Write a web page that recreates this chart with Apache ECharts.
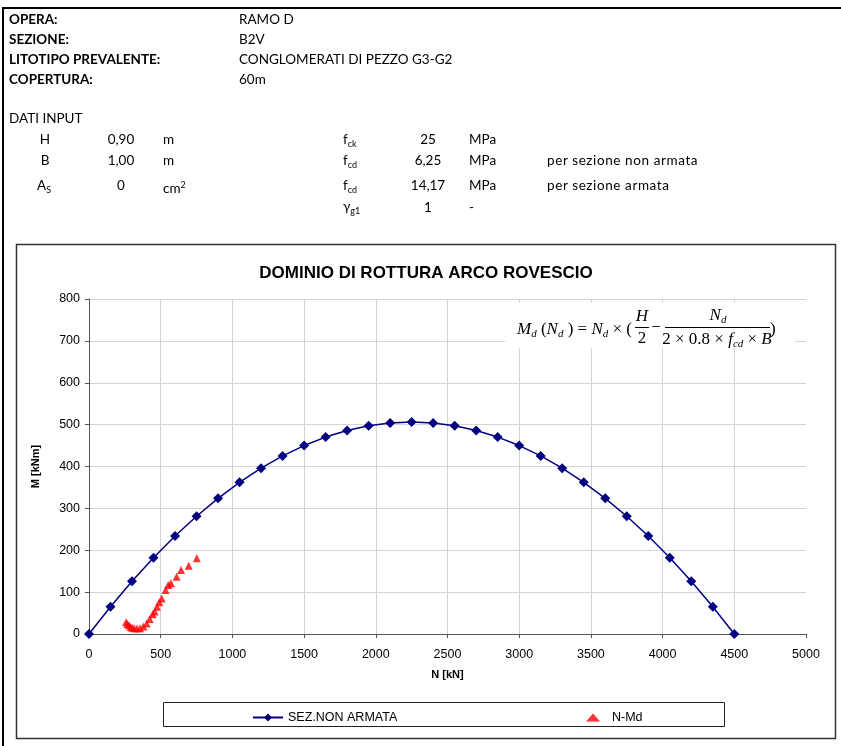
<!DOCTYPE html>
<html>
<head>
<meta charset="utf-8">
<script src="https://cdn.jsdelivr.net/npm/echarts@6/dist/echarts.min.js"></script>
<style>
html,body{margin:0;padding:0;background:#fff;}
#wrap{position:relative;width:841px;height:746px;overflow:hidden;background:#fff;}
#chart{position:absolute;left:0;top:0;width:841px;height:746px;}
.t{position:absolute;font-family:Lato,"Noto Sans",sans-serif;font-size:13.5px;line-height:16px;height:16px;color:#000;white-space:nowrap;}
.b{font-weight:bold;}
.c{transform:translateX(-50%);}
.w{letter-spacing:0.6px;}
.sub{font-size:9px;vertical-align:-3px;}
.sup{font-size:9px;vertical-align:5px;}
.line{position:absolute;background:#000;}
</style>
</head>
<body>
<div id="wrap">
<div id="chart"></div>
<div class="line" style="left:2px;top:7px;width:839px;height:2px;"></div>
<div class="line" style="left:2px;top:7px;width:2px;height:739px;"></div>

<div class="t b" style="left:9px;top:11px;">OPERA:</div>
<div class="t b" style="left:9px;top:31px;">SEZIONE:</div>
<div class="t b" style="left:9px;top:51px;">LITOTIPO PREVALENTE:</div>
<div class="t b" style="left:9px;top:71px;">COPERTURA:</div>
<div class="t" style="left:239px;top:11px;">RAMO D</div>
<div class="t" style="left:239px;top:31px;">B2V</div>
<div class="t" style="left:239px;top:51px;">CONGLOMERATI DI PEZZO G3-G2</div>
<div class="t" style="left:239px;top:71px;">60m</div>

<div class="t" style="left:9px;top:110px;">DATI INPUT</div>

<div class="t c" style="left:45px;top:131px;">H</div>
<div class="t c" style="left:121px;top:131px;">0,90</div>
<div class="t" style="left:163px;top:131px;">m</div>
<div class="t" style="left:343px;top:131px;">f<span class="sub">ck</span></div>
<div class="t c" style="left:428px;top:131px;">25</div>
<div class="t" style="left:469px;top:131px;">MPa</div>

<div class="t c" style="left:45px;top:152px;">B</div>
<div class="t c" style="left:121px;top:152px;">1,00</div>
<div class="t" style="left:163px;top:152px;">m</div>
<div class="t" style="left:343px;top:152px;">f<span class="sub">cd</span></div>
<div class="t c" style="left:428px;top:152px;">6,25</div>
<div class="t" style="left:469px;top:152px;">MPa</div>
<div class="t w" style="left:547px;top:152px;">per sezione non armata</div>

<div class="t c" style="left:44px;top:177px;">A<span class="sub">S</span></div>
<div class="t c" style="left:121px;top:177px;">0</div>
<div class="t" style="left:163px;top:177px;">cm<span class="sup">2</span></div>
<div class="t" style="left:343px;top:177px;">f<span class="sub">cd</span></div>
<div class="t c" style="left:428px;top:177px;">14,17</div>
<div class="t" style="left:469px;top:177px;">MPa</div>
<div class="t w" style="left:547px;top:177px;">per sezione armata</div>

<div class="t" style="left:343px;top:198px;">&gamma;<span class="sub">g1</span></div>
<div class="t c" style="left:428px;top:199px;">1</div>
<div class="t" style="left:469px;top:199px;">-</div>
</div>
<script>
// ---- data ----
var xTicks = { min: 0, max: 5000, interval: 500 };
var yTicks = { min: 0, max: 800, interval: 100 };
var domainN = [0,150,300,450,600,750,900,1050,1200,1350,1500,1650,1800,1950,2100,2250,2400,2550,2700,2850,3000,3150,3300,3450,3600,3750,3900,4050,4200,4350,4500];
var domainM = [0,65.25,126,182.25,234,281.25,324,362.25,396,425.25,450,470.25,486,497.25,504,506.25,504,497.25,486,470.25,450,425.25,396,362.25,324,281.25,234,182.25,126,65.25,0];
var loadN = [258,268,279,290,301,316,335,356,379,402,423,444,458,474,490,507,534,553,572,611,642,695,752];
var loadM = [28,24,21,17,15,14,13,14,18,25,36,47,54,65,76,85,105,117,121,137,153,163,181];
var seriesNames = ['SEZ.NON ARMATA','N-Md'];
var titleText = 'DOMINIO DI ROTTURA ARCO ROVESCIO';
var xName = 'N [kN]';
var yName = 'M [kNm]';

function zip(a,b){ return a.map(function(v,i){ return [v,b[i]]; }); }
function plain(v){ return String(v); }

var chart = echarts.init(document.getElementById('chart'));
var serif = '"Liberation Serif","DejaVu Serif",serif';
var richF = {
  i:{fontFamily:serif,fontStyle:'italic',fontSize:17,lineHeight:20,verticalAlign:'middle'},
  n:{fontFamily:serif,fontSize:17,lineHeight:20,verticalAlign:'middle'},
  s:{fontFamily:serif,fontStyle:'italic',fontSize:11,lineHeight:12,verticalAlign:'bottom'}
};
chart.setOption({
  animation:false,
  title:{text:titleText,left:421,top:260,textAlign:'center',
    textStyle:{fontFamily:'Liberation Sans, Arial',fontSize:17,fontWeight:'bold',color:'#000'}},
  grid:{left:89,right:35,top:299,bottom:112,containLabel:false},
  legend:[
    {data:[seriesNames[0]],left:247,top:706,itemWidth:30,itemHeight:10,
     textStyle:{fontFamily:'Liberation Sans, Arial',fontSize:12.5,color:'#000'}},
    {data:[seriesNames[1]],left:581,top:706,itemWidth:14,itemHeight:8,
     textStyle:{fontFamily:'Liberation Sans, Arial',fontSize:12.5,color:'#000',padding:[0,0,0,7]}}
  ],
  xAxis:{type:'value',min:xTicks.min,max:xTicks.max,interval:xTicks.interval,
    name:xName,nameLocation:'middle',nameGap:35,
    nameTextStyle:{fontFamily:'Liberation Sans, Arial',fontSize:11,fontWeight:'bold',color:'#000'},
    axisLine:{show:true,onZero:false,lineStyle:{color:'#555',width:1}},
    axisTick:{show:true,length:4,lineStyle:{color:'#555'}},
    axisLabel:{margin:14,formatter:plain,fontFamily:'Liberation Sans, Arial',fontSize:12.5,color:'#000'},
    splitLine:{show:true,showMaxLine:false,lineStyle:{color:'#d4d4d4',width:1}}},
  yAxis:{type:'value',min:yTicks.min,max:yTicks.max,interval:yTicks.interval,
    name:yName,nameLocation:'middle',nameGap:48,nameRotate:90,
    nameTextStyle:{fontFamily:'Liberation Sans, Arial',fontSize:11,fontWeight:'bold',color:'#000'},
    axisLine:{show:true,onZero:false,lineStyle:{color:'#555',width:1}},
    axisTick:{show:true,length:4,lineStyle:{color:'#555'}},
    axisLabel:{margin:9,formatter:plain,fontFamily:'Liberation Sans, Arial',fontSize:12.5,color:'#000'},
    splitLine:{show:true,lineStyle:{color:'#d4d4d4',width:1}}},
  series:[
    {name:seriesNames[0],type:'line',data:zip(domainN,domainM),symbol:'diamond',symbolSize:10,
     lineStyle:{color:'#000080',width:1.5},itemStyle:{color:'#000080'},z:3},
    {name:seriesNames[1],type:'scatter',data:zip(loadN,loadM),symbol:'triangle',symbolSize:8,
     itemStyle:{color:'#ff0000'},z:4}
  ],
  graphic:[
    {type:'rect',z:-10,shape:{x:16.5,y:244.5,width:819,height:494},
     style:{fill:'#fff',stroke:'#333',lineWidth:1.5}},
    {type:'rect',z:-5,shape:{x:163.5,y:702.5,width:561,height:24},
     style:{fill:'#fff',stroke:'#222',lineWidth:1}},
    {type:'rect',z:10,shape:{x:505,y:303,width:290,height:45},style:{fill:'#fff'}},
    {type:'text',z:11,x:517,y:330,style:{text:'{i|M}{s|d}{n| (}{i|N}{s|d}{n| ) = }{i|N}{s|d}{n| × (}',rich:richF,verticalAlign:'middle',align:'left'}},
    {type:'text',z:11,x:642,y:317,style:{text:'{i|H}',rich:richF,verticalAlign:'middle',align:'center'}},
    {type:'text',z:11,x:642,y:339,style:{text:'{n|2}',rich:richF,verticalAlign:'middle',align:'center'}},
    {type:'line',z:11,shape:{x1:635,y1:327.5,x2:649,y2:327.5},style:{stroke:'#000',lineWidth:1}},
    {type:'text',z:11,x:656,y:328,style:{text:'{n|−}',rich:richF,verticalAlign:'middle',align:'center'}},
    {type:'text',z:11,x:718,y:316,style:{text:'{i|N}{s|d}',rich:richF,verticalAlign:'middle',align:'center'}},
    {type:'line',z:11,shape:{x1:665,y1:327.5,x2:770,y2:327.5},style:{stroke:'#000',lineWidth:1}},
    {type:'text',z:11,x:717,y:340,style:{text:'{n|2 × 0.8 × }{i|f}{s|cd}{n| × }{i|B}',rich:richF,verticalAlign:'middle',align:'center'}},
    {type:'text',z:11,x:770,y:330,style:{text:'{n|)}',rich:richF,verticalAlign:'middle',align:'left'}}
  ]
});
</script>
</body>
</html>
